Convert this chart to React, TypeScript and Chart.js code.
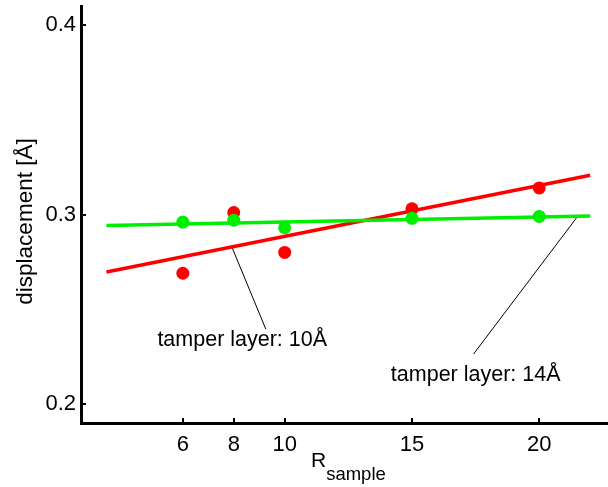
import React, { useEffect, useRef } from "react";
import { Chart, registerables } from "chart.js";

Chart.register(...registerables);

const categories = [6, 8, 10, 15, 20];
const redValues = [0.269, 0.301, 0.280, 0.303, 0.314];
const greenValues = [0.296, 0.297, 0.293, 0.298, 0.299];
const redFitX = [3, 22];
const redFitY = [0.2697, 0.3207];
const greenFitX = [3, 22];
const greenFitY = [0.2942, 0.2992];
const xTicks = [6, 8, 10, 15, 20];
const yTicks = [0.2, 0.3, 0.4];
const leader1X = [7.93, 9.26];
const leader1Y = [0.2827, 0.2395];
const leader2X = [21.49, 17.42];
const leader2Y = [0.2987, 0.2264];
const label1 = { text: "tamper layer: 10Å", x: 5.0, y: 0.2338 };
const label2 = { text: "tamper layer: 14Å", x: 14.17, y: 0.2153 };
const yTitle = "displacement [Å]";
const FONT = "'Liberation Sans', Arial, Helvetica, sans-serif";

const pts = (xs: number[], ys: number[]) => xs.map((x, i) => ({ x, y: ys[i] }));

const overlayPlugin = {
  id: "overlay",
  afterDraw(chart: any) {
    const ctx = chart.ctx;
    const xs = chart.scales.x;
    const ys = chart.scales.y;
    const area = chart.chartArea;
    ctx.save();
    ctx.strokeStyle = "#000";
    ctx.lineWidth = 2;
    xTicks.forEach((v) => {
      const px = Math.round(xs.getPixelForValue(v));
      ctx.beginPath();
      ctx.moveTo(px, area.bottom);
      ctx.lineTo(px, area.bottom - 5);
      ctx.stroke();
    });
    yTicks.forEach((v) => {
      const py = Math.round(ys.getPixelForValue(v));
      ctx.beginPath();
      ctx.moveTo(area.left, py);
      ctx.lineTo(area.left + 5, py);
      ctx.stroke();
    });
    ctx.fillStyle = "#000";
    ctx.textBaseline = "middle";
    ctx.textAlign = "left";
    ctx.font = `21.5px ${FONT}`;
    [label1, label2].forEach((l) => {
      ctx.fillText(l.text, xs.getPixelForValue(l.x), ys.getPixelForValue(l.y));
    });
    ctx.save();
    ctx.translate(26, 221.5);
    ctx.rotate(-Math.PI / 2);
    ctx.textAlign = "center";
    ctx.font = `22.5px ${FONT}`;
    ctx.fillText(yTitle, 0, 0);
    ctx.restore();
    ctx.textBaseline = "alphabetic";
    ctx.textAlign = "left";
    ctx.font = `21px ${FONT}`;
    ctx.fillText("R", 311, 467);
    const rw = ctx.measureText("R").width;
    ctx.font = `18.5px ${FONT}`;
    ctx.fillText("sample", 311 + rw, 480);
    ctx.restore();
  },
};

export default function App() {
  const ref = useRef<HTMLCanvasElement>(null);
  useEffect(() => {
    if (!ref.current) return;
    const chart = new Chart(ref.current, {
      type: "scatter",
      data: {
        datasets: [
          {
            data: pts(categories, greenValues),
            backgroundColor: "#00ee00",
            borderColor: "#00ee00",
            pointRadius: 6.5,
            borderWidth: 0,
            showLine: false,
          },
          {
            data: pts(greenFitX, greenFitY),
            borderColor: "#00ee00",
            borderWidth: 3.5,
            pointRadius: 0,
            showLine: true,
          },
          {
            data: pts(categories, redValues),
            backgroundColor: "#ff0000",
            borderColor: "#ff0000",
            pointRadius: 6.5,
            borderWidth: 0,
            showLine: false,
          },
          {
            data: pts(redFitX, redFitY),
            borderColor: "#ff0000",
            borderWidth: 3.5,
            pointRadius: 0,
            showLine: true,
          },
          {
            data: pts(leader1X, leader1Y),
            borderColor: "#000",
            borderWidth: 1,
            pointRadius: 0,
            showLine: true,
          },
          {
            data: pts(leader2X, leader2Y),
            borderColor: "#000",
            borderWidth: 1,
            pointRadius: 0,
            showLine: true,
          },
        ],
      },
      options: {
        animation: false,
        responsive: false,
        maintainAspectRatio: false,
        layout: { autoPadding: false, padding: { top: 6, right: 0, left: 0, bottom: 0 } },
        plugins: { legend: { display: false }, tooltip: { enabled: false } },
        scales: {
          x: {
            type: "linear",
            min: 2,
            max: 22.7,
            afterBuildTicks: (s: any) => {
              s.ticks = xTicks.map((v) => ({ value: v }));
            },
            afterFit: (s: any) => {
              s.height = 64;
              s.paddingLeft = 0;
              s.paddingRight = 0;
            },
            grid: { display: false, drawTicks: false },
            border: { display: true, color: "#000", width: 3 },
            ticks: {
              color: "#000",
              padding: 9,
              maxRotation: 0,
              autoSkip: false,
              font: { family: FONT, size: 22 },
            },
          },
          y: {
            type: "linear",
            min: 0.19,
            max: 0.41,
            afterBuildTicks: (s: any) => {
              s.ticks = yTicks.map((v) => ({ value: v }));
            },
            afterFit: (s: any) => {
              s.width = 81;
              s.paddingTop = 0;
              s.paddingBottom = 0;
            },
            grid: { display: false, drawTicks: false },
            border: { display: true, color: "#000", width: 3 },
            ticks: {
              color: "#000",
              padding: 5,
              autoSkip: false,
              font: { family: FONT, size: 22 },
              callback: (v: any) => Number(v).toFixed(1),
            },
          },
        },
      },
      plugins: [overlayPlugin],
    });
    return () => chart.destroy();
  }, []);
  return (
    <div style={{ position: "absolute", left: 0, top: 0, width: 608, height: 487, background: "#fff" }}>
      <canvas ref={ref} width={608} height={487} style={{ width: 608, height: 487, display: "block" }} />
    </div>
  );
}
